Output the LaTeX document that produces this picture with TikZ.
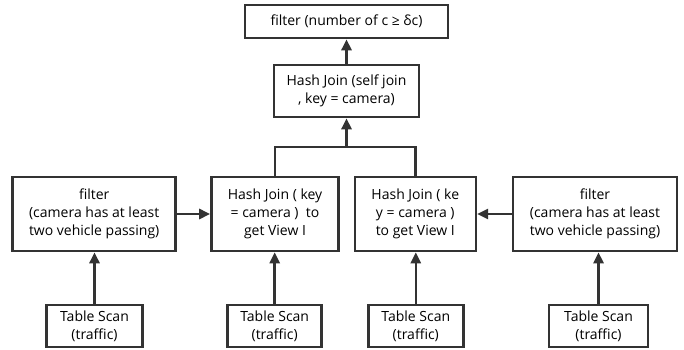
\documentclass[tikz,border=0pt]{standalone}
\usepackage{fontspec}
\setmainfont{Open Sans}
\usetikzlibrary{arrows.meta,positioning}

\begin{document}
\begin{tikzpicture}[
  x=1pt, y=-1pt,
  font=\fontsize{14}{18}\selectfont,
  op/.style={draw=black!80, line width=2.6pt, align=center, inner sep=0pt,
             fill=white},
  scan/.style={op, minimum height=42pt},
  mid/.style={op, minimum height=74pt},
  ar/.style={draw=black!80, line width=2.6pt,
             -{Triangle[length=11pt, width=10pt]}},
  ln/.style={draw=black!80, line width=2.6pt}
]
\useasboundingbox (0,0) rectangle (684,350);
%--- root -------------------------------------------------------------------
\node[op, minimum width=203pt, minimum height=33pt] (top) at (346.5,21.5)
  {filter (number of c ≥ δc)};
\node[op, minimum width=145pt, minimum height=52pt] (self) at (346.5,91)
  {Hash Join (self join\\, key = camera)};
\draw[ar] (self.north) -- (top.south);

%--- middle row -------------------------------------------------------------
\node[mid, minimum width=163pt] (lf) at (94.2,214) 
  {filter\\(camera has at least\\two vehicle passing)};
\node[mid, minimum width=127pt] (hj1) at (275,214)
  {Hash Join ( key\\= camera )~~to\\get View I};
\node[mid, minimum width=121pt] (hj2) at (415.3,214)
  {Hash Join ( ke\\y = camera )\\to get View I};
\node[mid, minimum width=164pt] (rf) at (595,214)
  {filter\\(camera has at least\\two vehicle passing)};
\coordinate (jn) at (346.5,147);
\draw[ln] (hj1.north) |- (jn) -| (hj2.north);
\draw[ar] (jn) -- (self.south);
\draw[ar] (lf.east) -- (hj1.west);
\draw[ar] (rf.west) -- (hj2.east);

%--- table scans ------------------------------------------------------------
\node[scan, minimum width=96pt] (ts1) at (94.5,326) {Table Scan\\(traffic)};
\node[scan, minimum width=94pt] (ts2) at (274.7,326) {Table Scan\\(traffic)};
\node[scan, minimum width=95pt] (ts3) at (415.8,326) {Table Scan\\(traffic)};
\node[scan, minimum width=99pt] (ts4) at (598.5,326) {Table Scan\\(traffic)};
\foreach \s/\d in {ts1/lf,ts2/hj1,ts3/hj2,ts4/rf}
  \draw[ar] (\s.north) -- (\s.north |- \d.south);
\end{tikzpicture}
\end{document}
